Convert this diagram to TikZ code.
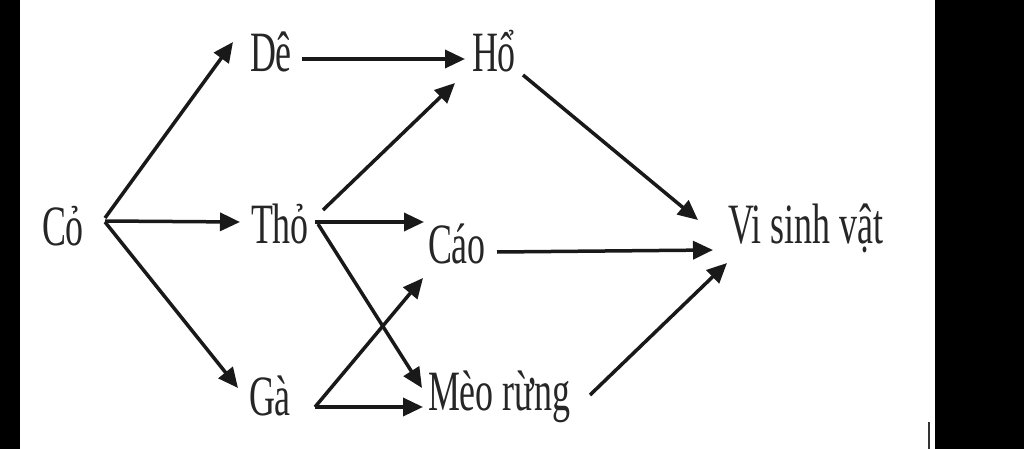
\documentclass[tikz,border=0pt]{standalone}
\usepackage{fontspec}
\setmainfont{Liberation Serif}
\usetikzlibrary{arrows.meta,calc}
\newcommand\lab[1]{\scalebox{0.63}[1]{#1}}
\begin{document}
\begin{tikzpicture}[x=1pt,y=-1pt,
  sp/.style={anchor=base west,inner sep=0pt,outer sep=0pt,font=\fontsize{57}{60}\selectfont,text=black!85},
  arr/.style={line width=3.5pt,black!90,-{Triangle[length=20pt,width=18pt]}}]
\useasboundingbox (0,0) rectangle (1024,449);
\fill[white] (0,0) rectangle (1024,449);
\fill[black] (0,0) rectangle (20,449);
\fill[black] (935,0) rectangle (1024,449);
\draw[line width=2pt,black!80] (929,422) -- (929,449);
\node[sp] (co) at (42,245) {\lab{Cỏ}};
\node[sp] (de) at (250,72) {\lab{Dê}};
\node[sp] (ho) at (472,72) {\lab{Hổ}};
\node[sp] (tho) at (251,243) {\lab{Thỏ}};
\node[sp] (cao) at (428,263) {\lab{Cáo}};
\node[sp] (ga) at (249,415) {\lab{Gà}};
\node[sp] (meo) at (428,410) {\lab{Mèo rừng}};
\node[sp] (vsv) at (728,243) {\lab{Vi sinh vật}};
\draw[arr] ($(co.base west)+(63,-27)$) -- ($(de.base west)+(-17,-30)$);
\draw[arr] ($(co.base west)+(63,-24)$) -- ($(tho.base west)+(-11,-21)$);
\draw[arr] ($(co.base west)+(63,-23)$) -- ($(ga.base west)+(-11,-27)$);
\draw[arr] ($(de.base west)+(52,-13)$) -- ($(ho.base west)+(-7,-13)$);
\draw[arr] ($(tho.base west)+(72,-33)$) -- ($(ho.base west)+(-17,11)$);
\draw[arr] ($(tho.base west)+(64,-21)$) -- ($(cao.base west)+(-4,-41)$);
\draw[arr] ($(tho.base west)+(67,-19)$) -- ($(meo.base west)+(-6,-22)$);
\draw[arr] ($(ga.base west)+(66,-8)$) -- ($(cao.base west)+(-5,15)$);
\draw[arr] ($(ga.base west)+(66,-8)$) -- ($(meo.base west)+(-5,-3)$);
\draw[arr] ($(ho.base west)+(51,3)$) -- ($(vsv.base west)+(-30,-23)$);
\draw[arr] ($(cao.base west)+(69,-11)$) -- ($(vsv.base west)+(-15,7)$);
\draw[arr] ($(meo.base west)+(162,-15)$) -- ($(vsv.base west)+(-1,20)$);
\end{tikzpicture}
\end{document}
